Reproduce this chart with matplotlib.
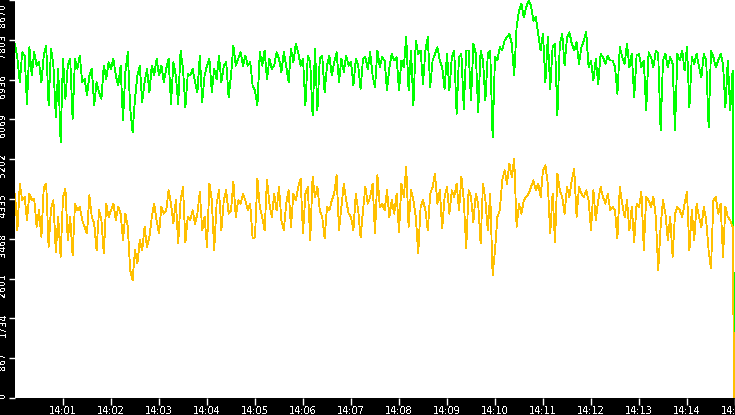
import matplotlib
matplotlib.use("Agg")
import matplotlib.pyplot as plt
from matplotlib.transforms import ScaledTranslation
import numpy as np

# ---- data ----
green = [
    7720, 7390, 6880, 7530, 7460, 6410, 7640, 7025, 7530, 7240,
    7315, 6880, 7460, 7680, 6375, 7606, 7240, 6120, 7170, 5575,
    7390, 6520, 7240, 7390, 6085, 7390, 7170, 7460, 6880, 6950,
    6590, 7025, 7170, 6375, 6880, 6665, 6520, 7240, 6950, 7315,
    7170, 7390, 7025, 6810, 7240, 6050, 7100, 7530, 6300, 5795,
    6520, 7025, 7240, 6445, 6880, 7170, 6665, 7240, 7025, 7390,
    7025, 7240, 6880, 7170, 7390, 6410, 7315, 7025, 6410, 7570,
    7170, 6340, 7060, 7025, 7170, 6880, 6665, 7460, 6445, 7025,
    7240, 7390, 6665, 7170, 6950, 7460, 6880, 7240, 7315, 6555,
    7025, 7680, 7240, 7390, 7530, 7240, 7460, 7240, 7315, 6810,
    6700, 6375, 7530, 7240, 7570, 6950, 7390, 7170, 7240, 7530,
    7390, 7100, 7530, 7240, 6880, 7606, 7315, 7720, 7530, 7240,
    7390, 6375, 7460, 7315, 6155, 7606, 6265, 7390, 7460, 6665,
    7240, 7460, 7025, 7315, 7530, 6880, 7390, 7100, 7460, 7240,
    7315, 6810, 7390, 7240, 6735, 7390, 7425, 7170, 7530, 7025,
    6771, 7569, 7206, 7424, 7351, 6700, 7206, 7496, 7351, 7424,
    6700, 7351, 7206, 7860, 6700, 7569, 6372, 7786, 7496, 7569,
    6844, 7569, 7860, 6771, 7351, 7496, 7641, 7351, 7206, 6735,
    7496, 6700, 7424, 7569, 6191, 7424, 7496, 6300, 7569, 7569,
    6481, 7714, 7496, 6228, 7569, 7351, 6481, 7496, 7569, 5684,
    7424, 7351, 7641, 7569, 7786, 7860, 7931, 7714, 7025, 8076,
    8439, 8584, 8294, 8512, 8657, 8548, 8221, 8294, 7931, 7569,
    7931, 6880, 7860, 6735, 7641, 7714, 6155, 7714, 7931, 7243,
    7860, 7967, 7714, 7569, 7750, 7279, 7641, 7786, 7967, 7206,
    7351, 6916, 7388, 6844, 7496, 7424, 7279, 7460, 7351, 7351,
    7206, 6626, 7641, 7424, 7279, 7714, 7206, 7496, 6553, 7460,
    7496, 7206, 7351, 6264, 7532, 7424, 7206, 7569, 7496, 5829,
    7351, 7496, 7206, 7424, 7279, 5829, 7496, 7351, 7569, 7134,
    7641, 6336, 7424, 7279, 7496, 7206, 6988, 7496, 7351, 5902,
    7569, 7424, 7206, 7351, 7496, 7279, 6336, 7351, 6264, 7134,
    0,
]

yellow = [
    4451, 3654, 4669, 4306, 4379, 3871, 4451, 4306, 4343, 3727,
    4089, 3509, 4596, 4669, 3292, 4125, 4306, 3183, 3944, 3074,
    4379, 4560, 3437, 3944, 3110, 4234, 4089, 4161, 3871, 3727,
    3582, 4415, 3944, 3799, 3219, 4089, 3871, 3147, 4234, 3944,
    4089, 4234, 3871, 4161, 4016, 3437, 4016, 3727, 2784, 2567,
    3219, 2929, 3437, 3219, 3727, 3292, 3509, 3944, 4234, 3871,
    3582, 4161, 4016, 4089, 4524, 4234, 3799, 4306, 3364, 4306,
    4596, 3393, 3944, 3871, 4089, 3799, 4016, 4488, 3654, 3944,
    3292, 4669, 4306, 3219, 4234, 4524, 3654, 4306, 4524, 4016,
    4089, 4705, 3944, 4306, 4234, 4451, 4306, 4089, 4234, 3473,
    3509, 4777, 4161, 3944, 3654, 4756, 4234, 3944, 4451, 4089,
    4596, 3871, 3654, 4234, 4524, 3727, 4451, 4306, 4596, 4777,
    3582, 4451, 4596, 3437, 4814, 4379, 4596, 4089, 3944, 3473,
    4161, 4089, 4306, 4451, 4850, 3654, 4161, 4669, 4306, 4016,
    3944, 3654, 4451, 4089, 3494, 4089, 4596, 4234, 4379, 4669,
    3582, 4850, 4161, 4234, 4089, 4524, 3944, 4306, 4016, 4451,
    3618, 4669, 4379, 5030, 3727, 4524, 4306, 3944, 3147, 4161,
    4306, 4089, 3654, 4451, 4596, 4886, 4234, 4524, 3690, 4379,
    4596, 4016, 4524, 4379, 4669, 4089, 4814, 4306, 3255, 4524,
    4379, 3835, 4451, 4234, 3364, 4669, 4306, 3654, 4451, 2676,
    3219, 3944, 4089, 4741, 4959, 4669, 5103, 4814, 5212, 3727,
    4234, 4016, 4306, 4379, 4451, 4596, 4741, 4524, 4669, 4379,
    4959, 5067, 4669, 3582, 4451, 3400, 4886, 4524, 4379, 4016,
    4596, 4379, 4741, 4995, 3944, 4596, 4451, 4379, 4524, 4306,
    3654, 4524, 3871, 4306, 4596, 4379, 4234, 4451, 4089, 4161,
    4089, 3473, 4596, 4234, 3944, 4306, 3654, 4161, 3400, 4234,
    4161, 4488, 3219, 4379, 4306, 4161, 4379, 3944, 2784, 3727,
    4306, 4016, 3437, 3944, 3074, 4016, 4161, 4089, 3944, 4234,
    4488, 3219, 4089, 3437, 4234, 3944, 3727, 4161, 3871, 3219,
    2820, 4306, 4379, 4016, 4234, 3074, 4161, 3944, 3871, 3727,
    0,
]

y_ticks = [0, 867, 1734, 2601, 3468, 4335, 5202, 6069, 6936, 7803, 8670]
y_labels = ["0", "867", "1734", "2601", "3468", "4335", "5202", "6069", "6936", "7803", "8670"]
x_labels = ["14:01", "14:02", "14:03", "14:04", "14:05", "14:06", "14:07", "14:08",
            "14:09", "14:10", "14:11", "14:12", "14:13", "14:14", "14:15"]

# sample times in seconds after 14:00:00 (3 s sampling, final reading at 899 s)
n = len(green) - 1
times = np.append(np.arange(n) * 3.0, 899.0)
x_ticks = [60 * (i + 1) for i in range(len(x_labels))]

plt.rcParams['text.antialiased'] = False
W, H = 735, 415
fig = plt.figure(figsize=(W / 100, H / 100), dpi=100, facecolor="black")
ax = fig.add_axes([15 / W, 17 / H, 720 / W, 398 / H])
ax.set_facecolor("white")

ax.plot(times, green, color="#00FF00", lw=0.6, antialiased=False)
ax.plot(times, yellow, color="#FFC000", lw=0.6, antialiased=False)

ax.set_xlim(0, 900)
ax.set_ylim(0, 8670)
for s in ax.spines.values():
    s.set_visible(False)

ax.set_yticks(y_ticks)
ax.set_yticklabels(y_labels, rotation=90, va="top", ha="center", fontsize=6.8,
                   color="white", family="DejaVu Sans")
ax.set_xticks(x_ticks)
ax.set_xticklabels(x_labels, fontsize=7, color="white", family="DejaVu Sans")
ax.tick_params(axis="y", colors="white", length=4, width=1, pad=4.5, direction="out")
ax.tick_params(axis="x", colors="white", length=5, width=1, pad=1, direction="out")

for lab in ax.get_yticklabels():
    dy = 6 if lab.get_text() != "8670" else -3
    lab.set_transform(lab.get_transform() + ScaledTranslation(0, dy / 100, fig.dpi_scale_trans))

fig.savefig("out.png", dpi=100, facecolor="black")
